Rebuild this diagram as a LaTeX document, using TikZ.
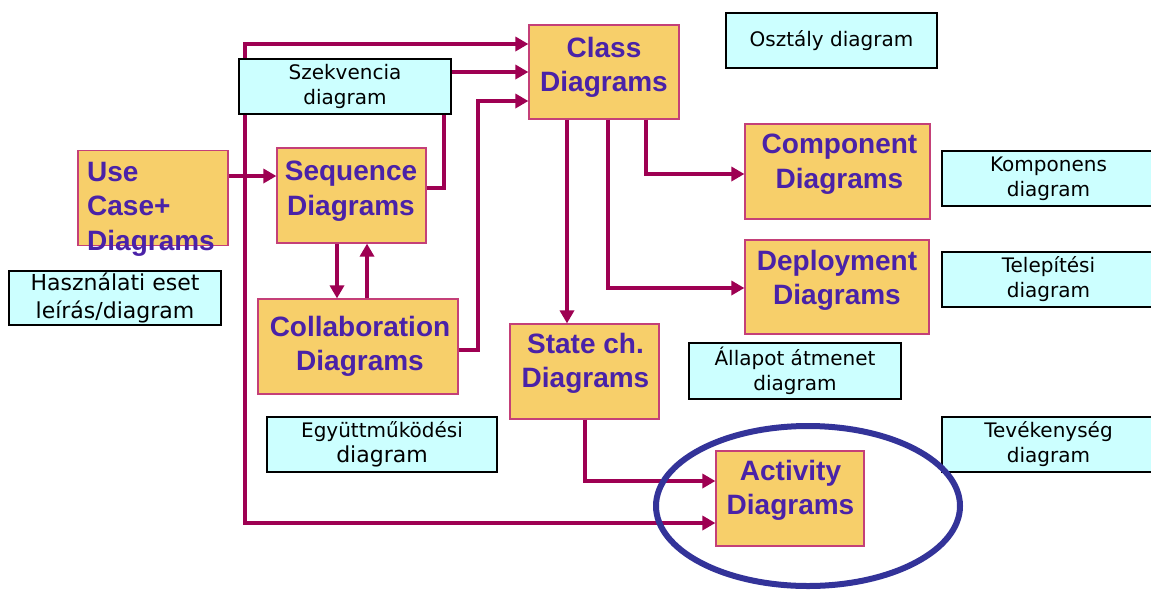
\documentclass[tikz,border=0pt]{standalone}
\usepackage{fontspec}
\setmainfont{Liberation Sans}
\newfontfamily\comicfont{DejaVu Sans}
\usetikzlibrary{arrows.meta,calc}
\definecolor{ofill}{RGB}{247,207,106}
\definecolor{oline}{RGB}{196,64,120}
\definecolor{ptext}{RGB}{74,34,168}
\definecolor{connc}{RGB}{158,0,82}
\definecolor{cfill}{RGB}{204,255,255}
\definecolor{ering}{RGB}{51,51,153}
\tikzset{
  obox/.style={draw=oline, fill=ofill, line width=1.2pt, inner sep=0pt},
  otext/.style={text=ptext, font=\fontsize{28}{34.5}\selectfont\bfseries, align=center, inner sep=0pt, anchor=north},
  cbox/.style={draw=black, fill=cfill, line width=1.2pt, align=center, inner sep=0pt, font=\comicfont\fontsize{20}{25}\selectfont},
  link/.style={draw=connc, line width=4pt, -{Triangle[length=13pt,width=14pt]}},
  dlink/.style={draw=connc, line width=4pt, {Triangle[length=13pt,width=14pt]}-{Triangle[length=13pt,width=14pt]}},
}
\begin{document}
\begin{tikzpicture}[x=1pt,y=-1pt]
\useasboundingbox (0,0) rectangle (1151,590);
\clip (0,0) rectangle (1151,590);
\fill[white] (0,0) rectangle (1151,590);

% orange boxes
\node[obox, minimum width=150pt, minimum height=94pt] (class) at (604,72) {};
\node[obox, minimum width=150pt, minimum height=95pt] (usecase) at (153,198) {};
\node[obox, minimum width=149pt, minimum height=95pt] (seq) at (351.5,195.5) {};
\node[obox, minimum width=200pt, minimum height=95pt] (collab) at (358,346.5) {};
\node[obox, minimum width=185pt, minimum height=95pt] (comp) at (837.5,171.5) {};
\node[obox, minimum width=184pt, minimum height=94pt] (deploy) at (837,287) {};
\node[obox, minimum width=149pt, minimum height=95pt] (state) at (584.5,371.5) {};
\node[obox, minimum width=148pt, minimum height=95pt] (activity) at (790,498.5) {};

% texts of orange boxes
\node[otext] (tclass) at (604,37) {Class\\Diagrams};
\node[otext, anchor=north west, align=left] (tuse) at (87,162) {Use\\Case+\\Diagrams};
\node[otext] (tseq) at (351,161) {Sequence\\Diagrams};
\node[otext] (tcollab) at (360,316) {Collaboration\\Diagrams};
\node[otext] (tcomp) at (839.5,134) {Component\\Diagrams};
\node[otext] (tdeploy) at (837,250) {Deployment\\Diagrams};
\node[otext] (tstate) at (585.5,333) {State ch.\\Diagrams};
\node[otext] (tact) at (790.5,460) {Activity\\Diagrams};

% connector bends
\coordinate (tt) at (245,44);
\coordinate (tb) at (245,523);
\coordinate (s1) at (444,188);
\coordinate (s2) at (444,72);
\coordinate (c1) at (478,350);
\coordinate (c2) at (478,101);
\coordinate (d1) at (608,288);
\coordinate (k1) at (646,174);
\coordinate (a1) at (585,481);
\coordinate (u1) at (227,176);
\coordinate (sd) at (337,0);
\coordinate (su) at (367,0);
\coordinate (sc) at (567,0);

% connectors
\draw[dlink] (class.west |- tt) -- (tt) -- (tb) -- (activity.west |- tb);
\draw[link] (usecase.east |- u1) -- (seq.west |- u1);
\draw[link] (seq.east |- s1) -- (s1) -- (s2) -- (class.west |- s2);
\draw[link] (collab.east |- c1) -- (c1) -- (c2) -- (class.west |- c2);
\draw[link] (seq.south -| sd) -- (collab.north -| sd);
\draw[link] (collab.north -| su) -- (seq.south -| su);
\draw[link] (class.south -| sc) -- (state.north -| sc);
\draw[link] (class.south -| d1) -- (d1) -- (deploy.west |- d1);
\draw[link] (class.south -| k1) -- (k1) -- (comp.west |- k1);
\draw[link] (state.south -| a1) -- (a1) -- (activity.west |- a1);

% cyan boxes
\node[cbox, minimum width=211pt, minimum height=55pt] (osz) at (831.5,40.5) {Osztály diagram};
\node[cbox, minimum width=212pt, minimum height=55pt] (szek) at (345,86.5) {Szekvencia\\diagram};
\node[cbox, minimum width=213pt, minimum height=55pt] (komp) at (1048.5,178.5) {Komponens\\diagram};
\node[cbox, minimum width=213pt, minimum height=55pt] (telep) at (1048.5,279.5) {Telepítési\\diagram};
\node[cbox, minimum width=212pt, minimum height=54pt, font=\comicfont\fontsize{22}{28}\selectfont] (haszn) at (115,298) {Használati eset\\leírás/diagram};
\node[cbox, minimum width=212pt, minimum height=56pt] (allapot) at (795,371) {Állapot átmenet\\diagram};
\node[cbox, minimum width=230pt, minimum height=55pt] (egyutt) at (382,444.5) {Együttműködési\\{\fontsize{22}{25}\selectfont diagram}};
\node[cbox, minimum width=213pt, minimum height=55pt] (tevek) at (1048.5,444.5) {Tevékenység\\diagram};

% highlight ring
\draw[ering, line width=6pt] (808,506) ellipse [x radius=152pt, y radius=80pt];
\end{tikzpicture}
\end{document}
